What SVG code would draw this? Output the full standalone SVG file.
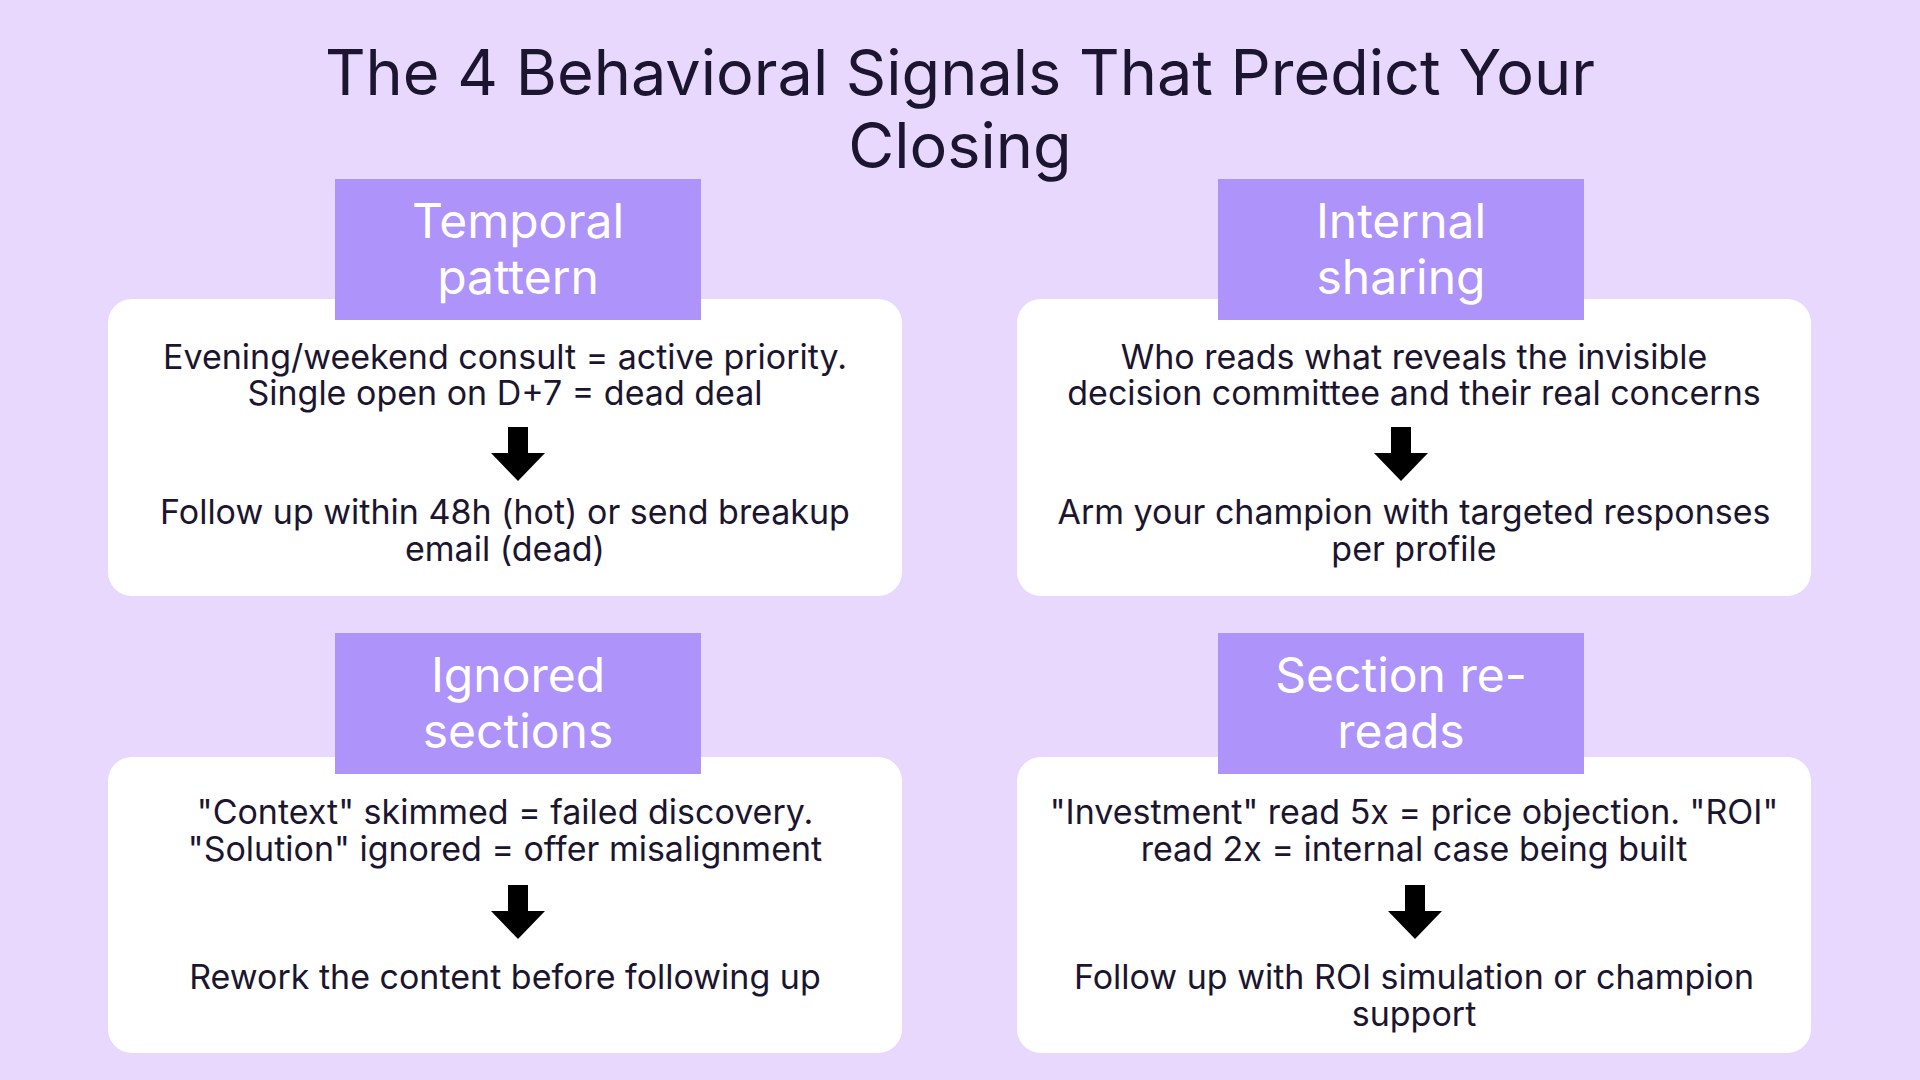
<svg xmlns="http://www.w3.org/2000/svg" width="1920" height="1080" viewBox="0 0 1920 1080">
<style>
.t{font-family:Inter,"Noto Sans",sans-serif;fill:#1c1530;text-anchor:middle}
.title{font-size:63px}
.h{font-family:Inter,"Noto Sans",sans-serif;fill:#fff;font-size:48px;text-anchor:middle}
.b{font-size:34px}
.card{fill:#fff}
.hdr{fill:#ae93fb}
.arr{fill:#000}
</style>
<rect width="1920" height="1080" fill="#e9d8fd"/>
<text class="t title" x="960" y="95">The 4 Behavioral Signals That Predict Your</text>
<text class="t title" x="960" y="168">Closing</text>
<g id="temporal">
<rect class="card" x="108" y="299" width="794" height="297" rx="24"/>
<rect class="hdr" x="335" y="179" width="366" height="141"/>
<text class="h" x="518" y="238">Temporal</text>
<text class="h" x="518" y="294">pattern</text>
<text class="t b" x="505" y="369">Evening/weekend consult = active priority.</text>
<text class="t b" x="505" y="405">Single open on D+7 = dead deal</text>
<text class="t b" x="505" y="524">Follow up within 48h (hot) or send breakup</text>
<text class="t b" x="505" y="561">email (dead)</text>
</g>
<g id="internal">
<rect class="card" x="1017" y="299" width="794" height="297" rx="24"/>
<rect class="hdr" x="1218" y="179" width="366" height="141"/>
<text class="h" x="1401" y="238">Internal</text>
<text class="h" x="1401" y="294">sharing</text>
<text class="t b" x="1414" y="369">Who reads what reveals the invisible</text>
<text class="t b" x="1414" y="405">decision committee and their real concerns</text>
<text class="t b" x="1414" y="524">Arm your champion with targeted responses</text>
<text class="t b" x="1414" y="561">per profile</text>
</g>
<g id="ignored">
<rect class="card" x="108" y="757" width="794" height="296" rx="24"/>
<rect class="hdr" x="335" y="633" width="366" height="141"/>
<text class="h" x="518" y="692">Ignored</text>
<text class="h" x="518" y="748">sections</text>
<text class="t b" x="505" y="824">"Context" skimmed = failed discovery.</text>
<text class="t b" x="505" y="861">"Solution" ignored = offer misalignment</text>
<text class="t b" x="505" y="989">Rework the content before following up</text>
</g>
<g id="rereads">
<rect class="card" x="1017" y="757" width="794" height="296" rx="24"/>
<rect class="hdr" x="1218" y="633" width="366" height="141"/>
<text class="h" x="1401" y="692">Section re-</text>
<text class="h" x="1401" y="748">reads</text>
<text class="t b" x="1414" y="824">"Investment" read 5x = price objection. "ROI"</text>
<text class="t b" x="1414" y="861">read 2x = internal case being built</text>
<text class="t b" x="1414" y="989">Follow up with ROI simulation or champion</text>
<text class="t b" x="1414" y="1026">support</text>
</g>
<g id="connectors">
<path class="arr" d="M508,427 H528 V453 H545 L518,481 L491,453 H508 Z"/>
<path class="arr" d="M1391,427 H1411 V453 H1428 L1401,481 L1374,453 H1391 Z"/>
<path class="arr" d="M508,885 H528 V911 H545 L518,939 L491,911 H508 Z"/>
<path class="arr" d="M1405,885 H1425 V911 H1442 L1415,939 L1388,911 H1405 Z"/>
</g>
</svg>
